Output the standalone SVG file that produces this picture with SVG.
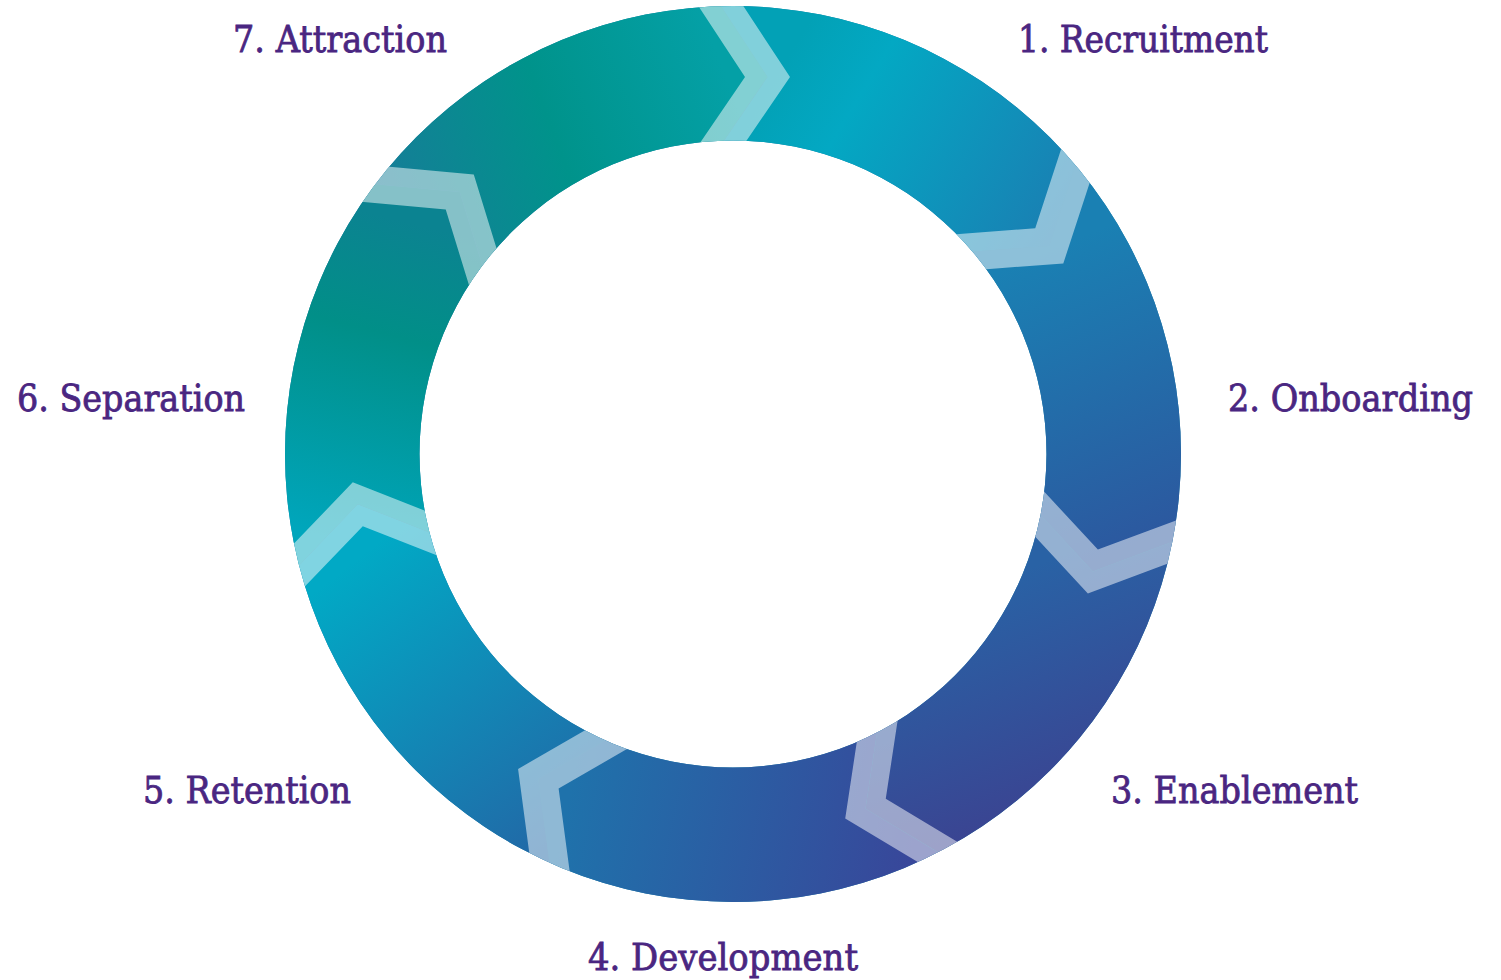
<svg xmlns="http://www.w3.org/2000/svg" xmlns:xlink="http://www.w3.org/1999/xlink" width="1501" height="980" viewBox="0 0 1501 980">
  <defs>
    <style>
      .label { font-family: "DejaVu Serif", "Liberation Serif", serif; font-size: 34px; fill: #4a2681; stroke: #4a2681; stroke-width: 0.75px; }
      .divider { fill: #ffffff; fill-opacity: 0.5; }
      .ring { fill-rule: evenodd; }
    </style>

    <!-- annulus: centre (733,454), outer r 448, inner r 313.5 -->
    <path id="ringPath" d="M285 454 A448 448 0 1 0 1181 454 A448 448 0 1 0 285 454 Z M419.5 454 A313.5 313.5 0 1 0 1046.5 454 A313.5 313.5 0 1 0 419.5 454 Z"/>
    <clipPath id="ringClip">
      <path clip-rule="evenodd" d="M285 454 A448 448 0 1 0 1181 454 A448 448 0 1 0 285 454 Z M419.5 454 A313.5 313.5 0 1 0 1046.5 454 A313.5 313.5 0 1 0 419.5 454 Z"/>
    </clipPath>

    <!-- one stage wedge, bounded by two zig-zag divider centre lines (local frame, origin = ring centre) -->
    <clipPath id="w0"><path transform="translate(733 454) rotate(0)" d="M0 0 L-86.3 -200 L34.5 -377 L-85.8 -560 L384.3 -416.3 L316.3 -208.1 L102.6 -192.2 Z"/></clipPath>
    <clipPath id="w1"><path transform="translate(733 454) rotate(51.4286)" d="M0 0 L-86.3 -200 L34.5 -377 L-85.8 -560 L384.3 -416.3 L316.3 -208.1 L102.6 -192.2 Z"/></clipPath>
    <clipPath id="w2"><path transform="translate(733 454) rotate(102.8571)" d="M0 0 L-86.3 -200 L34.5 -377 L-85.8 -560 L384.3 -416.3 L316.3 -208.1 L102.6 -192.2 Z"/></clipPath>
    <clipPath id="w3"><path transform="translate(733 454) rotate(154.2857)" d="M0 0 L-86.3 -200 L34.5 -377 L-85.8 -560 L384.3 -416.3 L316.3 -208.1 L102.6 -192.2 Z"/></clipPath>
    <clipPath id="w4"><path transform="translate(733 454) rotate(205.7143)" d="M0 0 L-86.3 -200 L34.5 -377 L-85.8 -560 L384.3 -416.3 L316.3 -208.1 L102.6 -192.2 Z"/></clipPath>
    <clipPath id="w5"><path transform="translate(733 454) rotate(257.1429)" d="M0 0 L-86.3 -200 L34.5 -377 L-85.8 -560 L384.3 -416.3 L316.3 -208.1 L102.6 -192.2 Z"/></clipPath>
    <clipPath id="w6"><path transform="translate(733 454) rotate(308.5714)" d="M0 0 L-86.3 -200 L34.5 -377 L-85.8 -560 L384.3 -416.3 L316.3 -208.1 L102.6 -192.2 Z"/></clipPath>

    <!-- stage fills -->
    <linearGradient id="g0" gradientUnits="userSpaceOnUse" x1="780" y1="70" x2="1060" y2="240">
      <stop offset="0" stop-color="#02a1b6"/>
      <stop offset="0.25" stop-color="#03a8c3"/>
      <stop offset="1" stop-color="#1b7db2"/>
    </linearGradient>
    <linearGradient id="g1" gradientUnits="userSpaceOnUse" x1="1050" y1="250" x2="1170" y2="530">
      <stop offset="0" stop-color="#1a80b3"/>
      <stop offset="1" stop-color="#2c589f"/>
    </linearGradient>
    <linearGradient id="g2" gradientUnits="userSpaceOnUse" x1="1000" y1="580" x2="1090" y2="800">
      <stop offset="0" stop-color="#2962a5"/>
      <stop offset="1" stop-color="#3b4391"/>
    </linearGradient>
    <linearGradient id="g3" gradientUnits="userSpaceOnUse" x1="910" y1="860" x2="570" y2="790">
      <stop offset="0" stop-color="#38479a"/>
      <stop offset="1" stop-color="#1f72ab"/>
    </linearGradient>
    <linearGradient id="g4" gradientUnits="userSpaceOnUse" x1="330" y1="580" x2="540" y2="850">
      <stop offset="0" stop-color="#01a9c5"/>
      <stop offset="1" stop-color="#2169a7"/>
    </linearGradient>
    <linearGradient id="g5" gradientUnits="userSpaceOnUse" x1="380" y1="215" x2="300" y2="530">
      <stop offset="0" stop-color="#0b8391"/>
      <stop offset="0.35" stop-color="#018f88"/>
      <stop offset="1" stop-color="#00a6bc"/>
    </linearGradient>
    <linearGradient id="g6" gradientUnits="userSpaceOnUse" x1="380" y1="190" x2="720" y2="60">
      <stop offset="0" stop-color="#167d98"/>
      <stop offset="0.5" stop-color="#00938b"/>
      <stop offset="1" stop-color="#04a0a6"/>
    </linearGradient>
  </defs>

  <rect width="1501" height="980" fill="#ffffff"/>

  <!-- base ring under the stages, hides hairline seams -->
  <use xlink:href="#ringPath" class="ring" fill="#1a7fa6"/>

  <!-- labels: set at 34px and stretched vertically so the caps stand ~27px tall -->
  <g id="stage-1-recruitment">
    <use xlink:href="#ringPath" class="ring" fill="url(#g0)" clip-path="url(#w0)"/>
    <text class="label" transform="translate(1018 52) scale(1 1.118)" x="0" y="0" textLength="250" lengthAdjust="spacingAndGlyphs">1. Recruitment</text>
  </g>
  <g id="stage-2-onboarding">
    <use xlink:href="#ringPath" class="ring" fill="url(#g1)" clip-path="url(#w1)"/>
    <text class="label" transform="translate(1228 411) scale(1 1.118)" x="0" y="0" textLength="245" lengthAdjust="spacingAndGlyphs">2. Onboarding</text>
  </g>
  <g id="stage-3-enablement">
    <use xlink:href="#ringPath" class="ring" fill="url(#g2)" clip-path="url(#w2)"/>
    <text class="label" transform="translate(1111 803) scale(1 1.118)" x="0" y="0" textLength="247" lengthAdjust="spacingAndGlyphs">3. Enablement</text>
  </g>
  <g id="stage-4-development">
    <use xlink:href="#ringPath" class="ring" fill="url(#g3)" clip-path="url(#w3)"/>
    <text class="label" transform="translate(588 970) scale(1 1.118)" x="0" y="0" textLength="270" lengthAdjust="spacingAndGlyphs">4. Development</text>
  </g>
  <g id="stage-5-retention">
    <use xlink:href="#ringPath" class="ring" fill="url(#g4)" clip-path="url(#w4)"/>
    <text class="label" transform="translate(143 803) scale(1 1.118)" x="0" y="0" textLength="208" lengthAdjust="spacingAndGlyphs">5. Retention</text>
  </g>
  <g id="stage-6-separation">
    <use xlink:href="#ringPath" class="ring" fill="url(#g5)" clip-path="url(#w5)"/>
    <text class="label" transform="translate(17 411) scale(1 1.118)" x="0" y="0" textLength="228" lengthAdjust="spacingAndGlyphs">6. Separation</text>
  </g>
  <g id="stage-7-attraction">
    <use xlink:href="#ringPath" class="ring" fill="url(#g6)" clip-path="url(#w6)"/>
    <text class="label" transform="translate(233 52) scale(1 1.118)" x="0" y="0" textLength="214" lengthAdjust="spacingAndGlyphs">7. Attraction</text>
  </g>

  <!-- chevron dividers pointing clockwise between stages -->
  <g id="connectors" clip-path="url(#ringClip)">
    <polygon class="divider" transform="rotate(0 733 454)" points="680.6,-21 745,77 685.6,164 730.6,164 790,77 725.6,-21"/>
    <polygon class="divider" transform="rotate(51.4286 733 454)" points="680.6,-21 745,77 685.6,164 730.6,164 790,77 725.6,-21"/>
    <polygon class="divider" transform="rotate(102.8571 733 454)" points="680.6,-21 745,77 685.6,164 730.6,164 790,77 725.6,-21"/>
    <polygon class="divider" transform="rotate(154.2857 733 454)" points="680.6,-21 745,77 685.6,164 730.6,164 790,77 725.6,-21"/>
    <polygon class="divider" transform="rotate(205.7143 733 454)" points="680.6,-21 745,77 685.6,164 730.6,164 790,77 725.6,-21"/>
    <polygon class="divider" transform="rotate(257.1429 733 454)" points="680.6,-21 745,77 685.6,164 730.6,164 790,77 725.6,-21"/>
    <polygon class="divider" transform="rotate(308.5714 733 454)" points="680.6,-21 745,77 685.6,164 730.6,164 790,77 725.6,-21"/>
  </g>
</svg>
